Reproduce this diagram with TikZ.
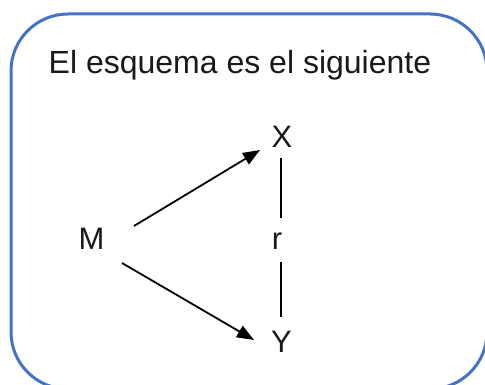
\documentclass[tikz,border=0pt]{standalone}
\usepackage{fontspec}
\setmainfont{Liberation Sans}
\usetikzlibrary{arrows.meta,calc}
\definecolor{boxblue}{HTML}{4472C4}
\tikzset{
  lbl/.style={font=\fontsize{31}{36}\selectfont, inner sep=0pt, anchor=base, text=black!90},
  arr/.style={line width=1.8pt, -{Triangle[length=17pt,width=13pt]}},
  link/.style={line width=1.8pt},
}
\begin{document}
\begin{tikzpicture}[x=1pt,y=-1pt]
\useasboundingbox (0,0) rectangle (485,385);
\clip (0,0) rectangle (485,385);
\draw[boxblue, line width=3pt, rounded corners=57pt] (11,14) rectangle (487,389);
\node[lbl, anchor=base west, font=\fontsize{32}{36}\selectfont] (title) at (48.5,74) {El esquema es el siguiente};
\node[lbl] (M) at (91.5,250) {M};
\node[lbl] (X) at (282,148) {X};
\node[lbl] (Y) at (281.5,352) {Y};
\node[lbl] (r) at (277,250) {r};
\draw[arr] ($(M.base)+(42.5,-24)$) -- ($(X.base)+(-22,2)$);
\draw[arr] ($(M.base)+(30.5,13)$) -- ($(Y.base)+(-27.5,-12)$);
\draw[link] ($(X.base)+(-1,10)$) -- ($(r.base)+(4,-32)$);
\draw[link] ($(r.base)+(4,12)$) -- ($(Y.base)+(-0.5,-35)$);
\end{tikzpicture}
\end{document}
